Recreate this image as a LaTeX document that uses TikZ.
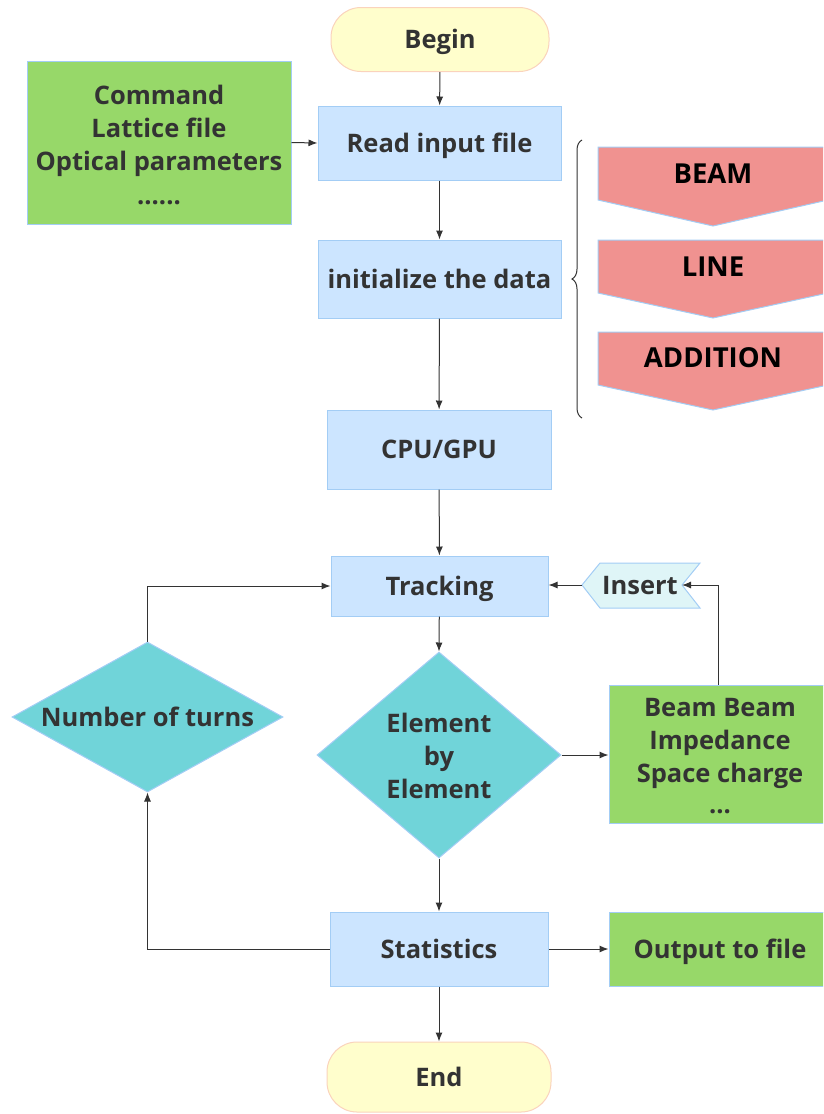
\documentclass[tikz,border=0pt]{standalone}
\usepackage{fontspec}
\setmainfont{Open Sans}
\usetikzlibrary{arrows.meta,shapes.geometric,decorations.pathreplacing}

\definecolor{boxblue}{HTML}{CCE5FF}
\definecolor{edgeblue}{HTML}{A3CDF5}
\definecolor{leafgreen}{HTML}{97D869}
\definecolor{teal}{HTML}{70D4D9}
\definecolor{pinkred}{HTML}{F09290}
\definecolor{paleyellow}{HTML}{FFFECC}
\definecolor{peach}{HTML}{FAD3BC}
\definecolor{palecyan}{HTML}{DFF5F7}
\definecolor{ink}{HTML}{333333}

\begin{document}
\begin{tikzpicture}[x=1pt,y=-1pt,
  every node/.style={font=\fontsize{25.5}{33}\selectfont\bfseries, text=ink, align=center, inner sep=0pt},
  oneline/.style={text height=24.5pt, text depth=6.1pt},
  procbox/.style={draw=edgeblue, fill=boxblue, line width=1pt, oneline, minimum width=#1},
  greenbox/.style={draw=edgeblue, fill=leafgreen, line width=1pt},
  terminal/.style={draw=peach, fill=paleyellow, line width=1pt, oneline, rounded corners=30pt},
  decision/.style={diamond, draw=edgeblue, fill=teal, line width=1pt, inner sep=0pt},
  tag/.style={draw=edgeblue, fill=pinkred, line width=1pt},
  taglabel/.style={text=black, text height=26pt, text depth=6.6pt, font=\fontsize{27.5}{33}\selectfont\bfseries},
  arr/.style={draw=ink, line width=1pt, -{Latex[length=9pt,width=7pt]}}
]
\useasboundingbox (0,0) rectangle (823,1114);
\clip (0,0) rectangle (823,1114);

% main column
\node[terminal, minimum width=218pt, minimum height=64pt] (begin) at (440,39.5) {Begin};
\node[procbox=243pt, minimum height=74pt] (read) at (439.5,143) {Read input file};
\node[procbox=243pt, minimum height=78pt] (init) at (439.5,279) {initialize the data};
\node[procbox=224pt, minimum height=79pt] (cpu) at (439,449.5) {CPU/GPU};
\node[procbox=217pt, minimum height=60pt] (track) at (439.5,586) {Tracking};
\node[decision, minimum width=244pt, minimum height=206pt] (elem) at (439,755) {};
\node (elemtext) at (439,756) {Element\\by\\Element};
\node[procbox=218pt, minimum height=74pt] (stats) at (439,949) {Statistics};
\node[terminal, minimum width=224pt, minimum height=70pt] (endn) at (439,1077) {End};

% input description
\node[greenbox, minimum width=264pt, minimum height=163pt] (inputs) at (159,142.5) {};
\node (inputstext) at (159,144.5) {Command\\Lattice file\\Optical parameters\\[1pt]......};

% loop counter
\node[decision, minimum width=271pt, minimum height=150pt] (turns) at (147.5,717) {};
\node[oneline] (turnstext) at (147.5,717) {Number of turns};

% collective effects and insertion
\node[greenbox, minimum width=222pt, minimum height=138pt] (effects) at (720,754) {};
\node (effectstext) at (720,756) {Beam Beam\\Impedance\\Space charge\\[-2pt]...};
\path[draw=edgeblue, fill=palecyan, line width=1pt]
  (582,585) -- (600,563) -- (700,563) -- (682,585) -- (700,608) -- (600,608) -- cycle;
\coordinate (insL) at (582,585);
\coordinate (insR) at (682,585);
\node[oneline] (insert) at (640,585) {Insert};

% output
\node[greenbox, oneline, minimum width=222pt, minimum height=74pt] (out) at (720,949) {Output to file};

% data blocks
\path[tag] (598,147) -- (828,147) -- (828,200) -- (713,226) -- (598,200) -- cycle;
\path[tag] (598,240) -- (828,240) -- (828,293) -- (713,318) -- (598,293) -- cycle;
\path[tag] (598,332) -- (828,332) -- (828,385) -- (713,410) -- (598,385) -- cycle;
\node[taglabel] (beam) at (713,174) {BEAM};
\node[taglabel] (line) at (713,267) {LINE};
\node[taglabel] (addition) at (713,358) {ADDITION};
\draw[ink, line width=1pt, decorate, decoration={brace, amplitude=10pt}] (582,418) -- (582,140);

% connectors
\draw[arr] (begin) -- (read);
\draw[arr] (inputs.east) -- (read.west);
\draw[arr] (read) -- (init);
\draw[arr] (init) -- (cpu);
\draw[arr] (cpu) -- (track);
\draw[arr] (track) -- (elem.north);
\draw[arr] (elem.south) -- (stats);
\draw[arr] (elem.east) -- (effects.west |- elem.east);
\draw[arr] ([xshift=-2pt]effects.north) |- (insR);
\draw[arr] (insL) -- (track.east |- insL);
\draw[arr] (stats) -- (out);
\draw[arr] (stats) -- (endn);
\draw[arr] (stats.west) -| (turns.south);
\draw[arr] (turns.north) |- (track.west);
\end{tikzpicture}
\end{document}
